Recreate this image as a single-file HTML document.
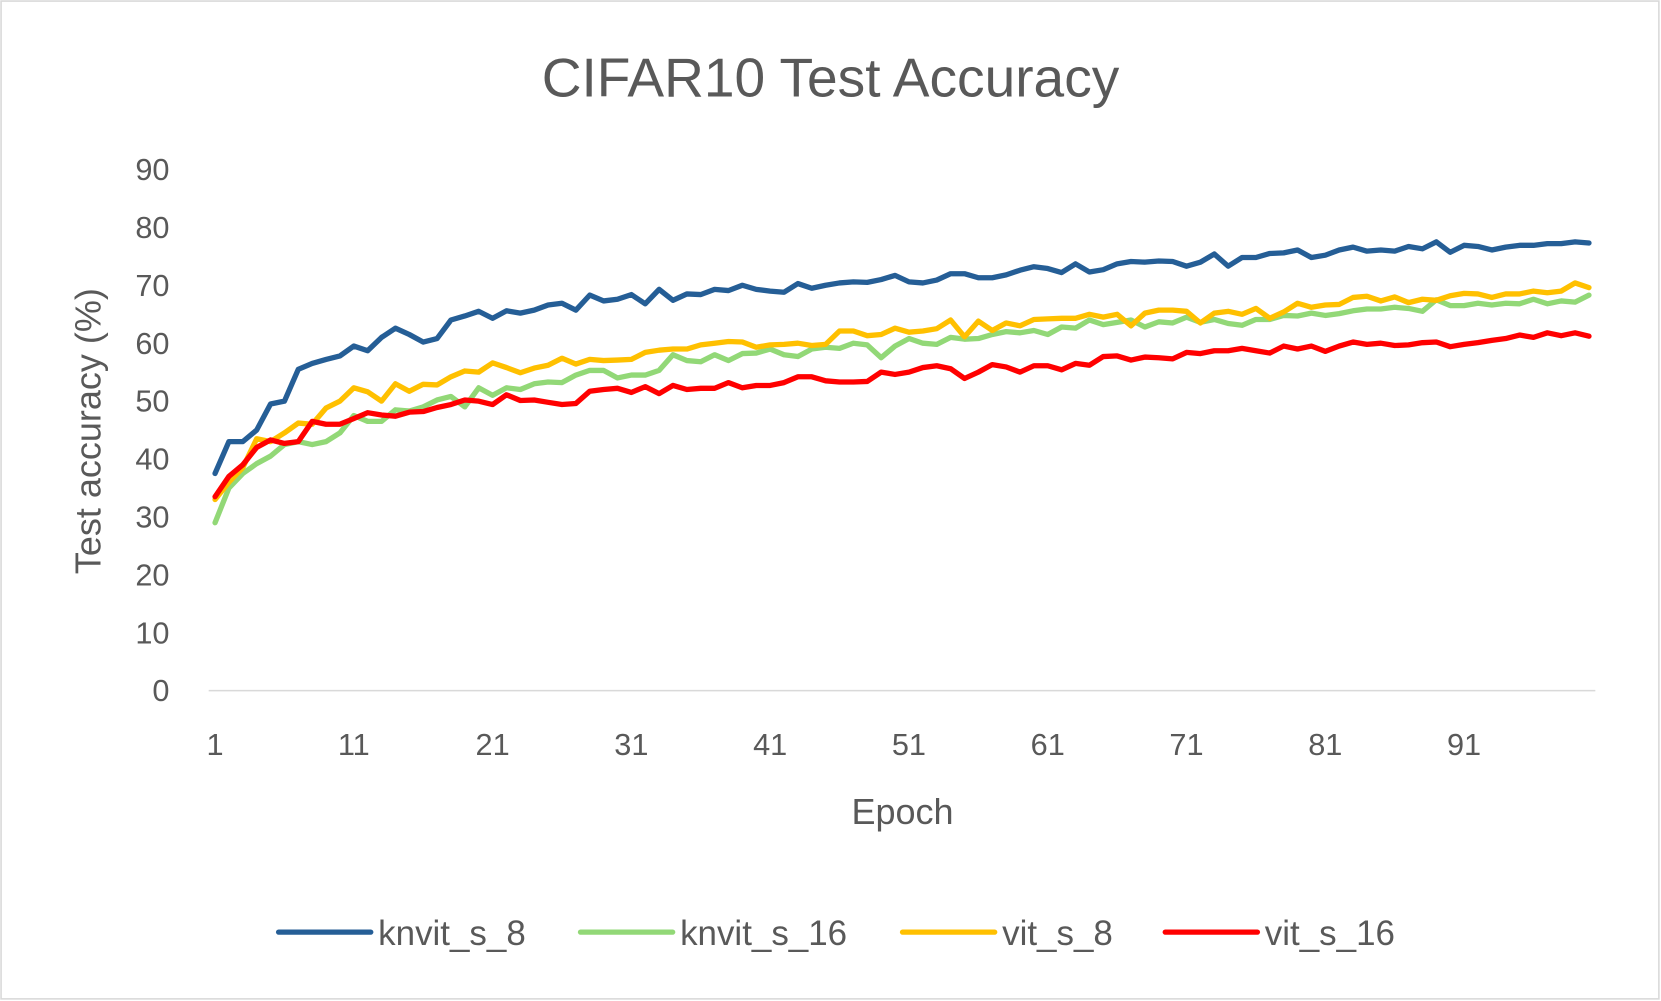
<!DOCTYPE html>
<html><head><meta charset="utf-8"><style>
html,body{margin:0;padding:0;background:#fff}
svg{display:block}
text{font-family:"Liberation Sans",sans-serif;fill:#595959}
</style></head><body>
<svg id="chart" width="1661" height="1001" viewBox="0 0 1568 945" preserveAspectRatio="none">
<rect x="1" y="1" width="1565" height="942" fill="#fff" stroke="#d9d9d9" stroke-width="1.5"/>
<text x="784" y="91" font-size="52" text-anchor="middle">CIFAR10 Test Accuracy</text>
<g id="yticks"></g><g id="xticks"></g>
<line x1="197" y1="652" x2="1506" y2="652" stroke="#d9d9d9" stroke-width="1.5"/>
<g id="series"></g>
<text transform="translate(95,407) rotate(-90)" font-size="34" text-anchor="middle">Test accuracy (%)</text>
<text x="852" y="778" font-size="34" text-anchor="middle">Epoch</text>
<g id="legend"></g>
</svg>
<script>
const seriesNames=["knvit_s_8","knvit_s_16","vit_s_8","vit_s_16"];
const yTicks=[0,10,20,30,40,50,60,70,80,90];
const xTickEpochs=[1,11,21,31,41,51,61,71,81,91];
const knvit8=[37.5,43,43,45,49.5,50,55.5,56.5,57.2,57.8,59.5,58.7,61,62.6,61.5,60.2,60.8,64,64.7,65.5,64.3,65.6,65.2,65.7,66.6,66.9,65.7,68.3,67.3,67.6,68.4,66.8,69.3,67.4,68.5,68.4,69.3,69.1,70,69.3,69,68.8,70.3,69.5,70,70.4,70.6,70.5,71,71.7,70.6,70.4,70.9,72,72,71.3,71.3,71.8,72.6,73.2,72.9,72.2,73.7,72.3,72.7,73.7,74.1,74,74.2,74.1,73.3,74,75.4,73.3,74.8,74.8,75.5,75.6,76.1,74.8,75.2,76.1,76.6,75.9,76.1,75.9,76.7,76.3,77.5,75.7,76.9,76.7,76.1,76.6,76.9,76.9,77.2,77.2,77.5,77.3];
const knvit16=[29,35,37.5,39.2,40.5,42.5,43,42.5,43,44.5,47.5,46.5,46.5,48.5,48.3,49,50.2,50.8,49,52.3,51,52.3,52,53,53.3,53.2,54.5,55.3,55.3,54,54.5,54.5,55.3,58,57,56.8,58,57,58.2,58.3,59,58,57.7,59,59.3,59.1,60,59.7,57.5,59.5,60.8,60,59.8,61,60.7,60.8,61.5,62,61.8,62.2,61.5,62.8,62.6,64,63.2,63.6,64,62.8,63.7,63.5,64.5,63.6,64.1,63.4,63.1,64.1,64.1,64.8,64.7,65.2,64.8,65.1,65.6,65.9,65.9,66.2,66,65.5,67.5,66.5,66.5,66.9,66.6,66.9,66.8,67.6,66.8,67.3,67.1,68.3];
const vit8=[33,36,38.5,43.5,43,44.5,46.2,46,48.8,50,52.3,51.6,50,53,51.7,52.9,52.8,54.2,55.2,55,56.6,55.8,54.9,55.7,56.2,57.4,56.4,57.2,57,57.1,57.2,58.4,58.8,59,59,59.7,60,60.3,60.2,59.3,59.7,59.8,60,59.6,59.8,62.1,62.1,61.3,61.5,62.6,61.9,62.1,62.5,64,61.1,63.8,62.2,63.5,63,64.1,64.2,64.3,64.3,65,64.5,65,63,65.2,65.7,65.7,65.5,63.5,65.2,65.5,65,66,64.3,65.4,66.9,66.2,66.6,66.7,67.9,68.1,67.3,68,67,67.6,67.4,68.2,68.6,68.5,67.9,68.5,68.5,69,68.7,69,70.4,69.6];
const vit16=[33.5,37,39,42,43.3,42.7,43,46.5,46,46,47,48,47.6,47.4,48.1,48.2,48.9,49.4,50.2,50,49.4,51.1,50.1,50.2,49.8,49.4,49.6,51.7,52,52.2,51.5,52.5,51.3,52.7,52,52.2,52.2,53.2,52.3,52.7,52.7,53.2,54.2,54.2,53.5,53.3,53.3,53.4,55,54.6,55,55.8,56.1,55.6,53.9,55,56.3,55.9,55,56.1,56.1,55.4,56.5,56.2,57.7,57.8,57.1,57.6,57.5,57.3,58.4,58.2,58.7,58.7,59.1,58.7,58.3,59.5,59,59.5,58.6,59.5,60.2,59.8,60,59.6,59.7,60.1,60.2,59.4,59.8,60.1,60.5,60.8,61.4,61,61.8,61.3,61.8,61.2];
const seriesData=[knvit8,knvit16,vit8,vit16];
const colors=["#255e96","#92d877","#ffc000","#ff0000"];
const NS="http://www.w3.org/2000/svg";
const xOf=e=>203+(e-1)*(1500-203)/99;
const yOf=v=>652-v*(652-160)/90;
function mk(tag,attrs,parent){const el=document.createElementNS(NS,tag);for(const k in attrs)el.setAttribute(k,attrs[k]);parent.appendChild(el);return el;}
const yg=document.getElementById('yticks');
yTicks.forEach(v=>{const t=mk('text',{x:160,y:yOf(v)+10,'font-size':29,'text-anchor':'end'},yg);t.textContent=v;

});
const xg=document.getElementById('xticks');
xTickEpochs.forEach(e=>{const t=mk('text',{x:xOf(e),y:713,'font-size':29,'text-anchor':'middle'},xg);t.textContent=e;

});
const sg=document.getElementById('series');
seriesData.forEach((arr,i)=>{const pts=arr.map((v,j)=>xOf(j+1).toFixed(1)+','+yOf(v).toFixed(1)).join(' ');
const p=mk('polyline',{points:pts,fill:'none',stroke:colors[i],'stroke-width':5,'stroke-linejoin':'round','stroke-linecap':'round'},sg);

});
const lg=document.getElementById('legend');
const lx=[263,548,852,1100];
seriesNames.forEach((n,i)=>{const g=mk('g',{},lg);


mk('line',{x1:lx[i],y1:880,x2:lx[i]+87,y2:880,stroke:colors[i],'stroke-width':5,'stroke-linecap':'round'},g);
const t=mk('text',{x:lx[i]+94,y:892,'font-size':33},g);t.textContent=n;});
</script>
</body></html>
